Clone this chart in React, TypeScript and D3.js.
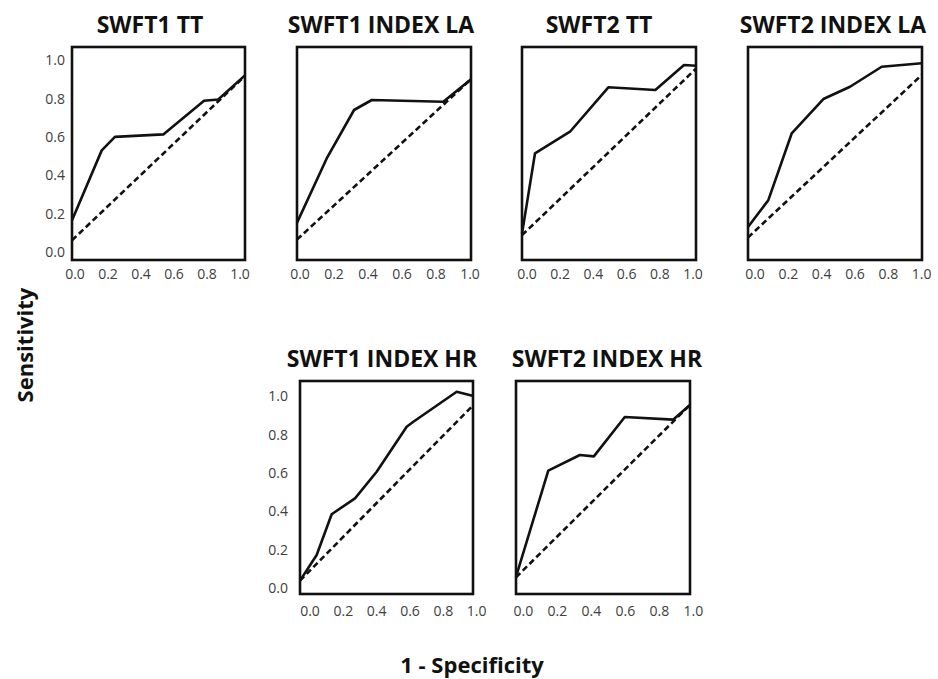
import React from "react";
import * as d3 from "d3";

// ---------- data ----------
const titles = ["SWFT1 TT", "SWFT1 INDEX LA", "SWFT2 TT", "SWFT2 INDEX LA", "SWFT1 INDEX HR", "SWFT2 INDEX HR"];
const tickValues = [0, 0.2, 0.4, 0.6, 0.8, 1.0];

const fpr1 = [-0.018, 0.162, 0.242, 0.535, 0.782, 0.868, 1.03];
const tpr1 = [0.167, 0.53, 0.6, 0.613, 0.788, 0.795, 0.92];
const fpr2 = [-0.018, 0.157, 0.318, 0.422, 0.843, 1.006];
const tpr2 = [0.153, 0.488, 0.74, 0.792, 0.783, 0.9];
const fpr3 = [-0.03, 0.048, 0.259, 0.49, 0.773, 0.946, 1.018];
const tpr3 = [0.097, 0.514, 0.627, 0.858, 0.844, 0.974, 0.97];
const fpr4 = [-0.042, 0.08, 0.22, 0.41, 0.57, 0.76, 1.0];
const tpr4 = [0.132, 0.271, 0.618, 0.797, 0.861, 0.965, 0.983];
const fpr5 = [-0.06, 0.04, 0.13, 0.27, 0.4, 0.58, 0.62, 0.88, 0.98];
const tpr5 = [0.04, 0.173, 0.385, 0.468, 0.606, 0.84, 0.866, 1.022, 1.0];
const fpr6 = [-0.043, 0.147, 0.333, 0.415, 0.597, 0.881, 0.98];
const tpr6 = [0.06, 0.612, 0.693, 0.686, 0.891, 0.877, 0.953];

// reference (chance) line endpoints: [x0, y0, x1, y1]
const ref1 = [-0.018, 0.0625, 1.03, 0.917];
const ref2 = [-0.018, 0.066, 1.006, 0.9];
const ref3 = [-0.03, 0.089, 1.018, 0.955];
const ref4 = [-0.042, 0.077, 1.0, 0.922];
const ref5 = [-0.06, 0.04, 0.98, 0.953];
const ref6 = [-0.043, 0.057, 0.98, 0.953];

const fprs = [fpr1, fpr2, fpr3, fpr4, fpr5, fpr6];
const tprs = [tpr1, tpr2, tpr3, tpr4, tpr5, tpr6];
const refs = [ref1, ref2, ref3, ref4, ref5, ref6];

// ---------- layout ----------
type Layout = {
  left: number; right: number; top: number; bottom: number;
  x0: number; x1: number; y0: number; y1: number;
  titleX: number; titleY: number; tickY: number; showY: boolean; yGap: number;
};
const layouts: Layout[] = [
  { left: 72, right: 245, top: 47, bottom: 260, x0: 75, x1: 240, y0: 252.3, y1: 60, titleX: 150, titleY: 33, tickY: 278.5, showY: true, yGap: 7 },
  { left: 297, right: 471, top: 47, bottom: 260, x0: 300, x1: 470, y0: 252.3, y1: 60, titleX: 381, titleY: 33, tickY: 278.5, showY: false, yGap: 7 },
  { left: 522, right: 696, top: 47, bottom: 260, x0: 527, x1: 693, y0: 252.3, y1: 60, titleX: 599, titleY: 33, tickY: 278.5, showY: false, yGap: 7 },
  { left: 748, right: 922, top: 47, bottom: 260, x0: 755, x1: 921.7, y0: 252.3, y1: 60, titleX: 833, titleY: 33, tickY: 278.5, showY: false, yGap: 7 },
  { left: 300, right: 473, top: 381, bottom: 594, x0: 310, x1: 476.7, y0: 588.3, y1: 396, titleX: 382, titleY: 367, tickY: 616, showY: true, yGap: 12 },
  { left: 516, right: 690, top: 381, bottom: 594, x0: 523.3, x1: 693.3, y0: 588.3, y1: 396, titleX: 607, titleY: 367, tickY: 616, showY: false, yGap: 12 },
];

const fmt = d3.format(".1f");
const font = "'Open Sans', sans-serif";

function Panel({ i }: { i: number }) {
  const L = layouts[i];
  const x = d3.scaleLinear().domain([0, 1]).range([L.x0, L.x1]);
  const y = d3.scaleLinear().domain([0, 1]).range([L.y0, L.y1]);
  const pts: [number, number][] = fprs[i].map((f, k) => [f, tprs[i][k]]);
  const line = d3.line<[number, number]>().x((d) => x(d[0])).y((d) => y(d[1]));
  const r = refs[i];
  const refPts: [number, number][] = [[r[0], r[1]], [r[2], r[3]]];
  return (
    <g>
      <text x={L.titleX} y={L.titleY} textAnchor="middle" fontFamily={font} fontWeight={700} fontSize={23} fill="#111">
        {titles[i]}
      </text>
      <path d={line(refPts) || ""} fill="none" stroke="#111" strokeWidth={2.6} strokeDasharray="6,3.5" />
      <path d={line(pts) || ""} fill="none" stroke="#111" strokeWidth={2.6} strokeLinejoin="round" />
      <rect x={L.left} y={L.top} width={L.right - L.left} height={L.bottom - L.top} fill="none" stroke="#111" strokeWidth={2.6} />
      {tickValues.map((t) => (
        <text key={"x" + t} x={x(t)} y={L.tickY} textAnchor="middle" fontFamily={font} fontSize={14} fill="#404040">
          {fmt(t)}
        </text>
      ))}
      {L.showY &&
        tickValues.map((t) => (
          <text key={"y" + t} x={L.left - L.yGap} y={y(t)} dy="0.36em" textAnchor="end" fontFamily={font} fontSize={14} fill="#404040">
            {fmt(t)}
          </text>
        ))}
    </g>
  );
}

export default function App() {
  return (
    <svg width={938} height={679} style={{ position: "absolute", left: 0, top: 0, background: "#fff" }}>
      <rect width={938} height={679} fill="#fff" />
      {titles.map((_, i) => (
        <Panel key={i} i={i} />
      ))}
      <text transform="translate(33,345) rotate(-90)" textAnchor="middle" fontFamily={font} fontWeight={700} fontSize={22} fill="#111">
        Sensitivity
      </text>
      <text x={472} y={673} textAnchor="middle" fontFamily={font} fontWeight={700} fontSize={22} fill="#111">
        1 - Specificity
      </text>
    </svg>
  );
}
